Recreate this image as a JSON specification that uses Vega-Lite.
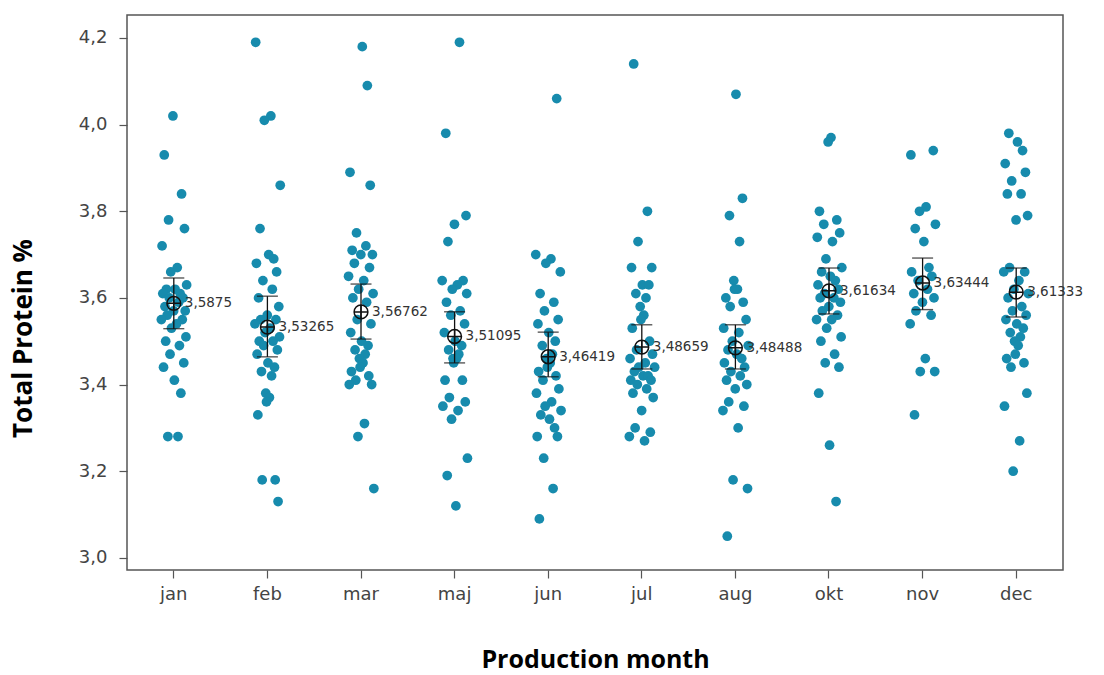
{
  "$schema": "https://vega.github.io/schema/vega-lite/v6.json",
  "width": 936,
  "height": 555,
  "autosize": {"type": "none"},
  "padding": {"left": 127, "top": 15, "right": 41, "bottom": 105},
  "background": "white",
  "config": {
    "view": {"stroke": "#555555", "strokeWidth": 1.5},
    "locale": {"number": {"decimal": ",", "thousands": ".", "grouping": [3], "currency": ["", " €"]}}
  },
  "datasets": {
    "pts": [
      {"m":"jan","v":4.02,"o":17},{"m":"jan","v":3.93,"o":5},{"m":"jan","v":3.84,"o":29},{"m":"jan","v":3.78,"o":11},{"m":"jan","v":3.76,"o":33},{"m":"jan","v":3.72,"o":2},{"m":"jan","v":3.67,"o":23},{"m":"jan","v":3.66,"o":14},{"m":"jan","v":3.63,"o":36},{"m":"jan","v":3.62,"o":8},{"m":"jan","v":3.62,"o":20},{"m":"jan","v":3.61,"o":27},{"m":"jan","v":3.61,"o":3},{"m":"jan","v":3.6,"o":31},{"m":"jan","v":3.6,"o":12},{"m":"jan","v":3.59,"o":25},{"m":"jan","v":3.58,"o":6},{"m":"jan","v":3.57,"o":34},{"m":"jan","v":3.57,"o":18},{"m":"jan","v":3.56,"o":9},{"m":"jan","v":3.55,"o":30},{"m":"jan","v":3.55,"o":1},{"m":"jan","v":3.54,"o":22},{"m":"jan","v":3.53,"o":15},{"m":"jan","v":3.51,"o":35},{"m":"jan","v":3.5,"o":7},{"m":"jan","v":3.49,"o":26},{"m":"jan","v":3.47,"o":13},{"m":"jan","v":3.45,"o":32},{"m":"jan","v":3.44,"o":4},{"m":"jan","v":3.41,"o":19},{"m":"jan","v":3.38,"o":28},{"m":"jan","v":3.28,"o":10},{"m":"jan","v":3.28,"o":24},
      {"m":"feb","v":4.19,"o":2},{"m":"feb","v":4.02,"o":23},{"m":"feb","v":4.01,"o":14},{"m":"feb","v":3.86,"o":36},{"m":"feb","v":3.76,"o":8},{"m":"feb","v":3.7,"o":20},{"m":"feb","v":3.69,"o":27},{"m":"feb","v":3.68,"o":3},{"m":"feb","v":3.66,"o":31},{"m":"feb","v":3.64,"o":12},{"m":"feb","v":3.62,"o":25},{"m":"feb","v":3.6,"o":6},{"m":"feb","v":3.58,"o":34},{"m":"feb","v":3.56,"o":18},{"m":"feb","v":3.55,"o":9},{"m":"feb","v":3.55,"o":30},{"m":"feb","v":3.54,"o":1},{"m":"feb","v":3.53,"o":22},{"m":"feb","v":3.52,"o":15},{"m":"feb","v":3.51,"o":35},{"m":"feb","v":3.5,"o":7},{"m":"feb","v":3.5,"o":26},{"m":"feb","v":3.49,"o":13},{"m":"feb","v":3.48,"o":32},{"m":"feb","v":3.47,"o":4},{"m":"feb","v":3.45,"o":19},{"m":"feb","v":3.44,"o":28},{"m":"feb","v":3.43,"o":10},{"m":"feb","v":3.42,"o":24},{"m":"feb","v":3.38,"o":16},{"m":"feb","v":3.37,"o":21},{"m":"feb","v":3.36,"o":17},{"m":"feb","v":3.33,"o":5},{"m":"feb","v":3.18,"o":29},{"m":"feb","v":3.18,"o":11},{"m":"feb","v":3.13,"o":33},
      {"m":"mar","v":4.18,"o":20},{"m":"mar","v":4.09,"o":27},{"m":"mar","v":3.89,"o":3},{"m":"mar","v":3.86,"o":31},{"m":"mar","v":3.75,"o":12},{"m":"mar","v":3.72,"o":25},{"m":"mar","v":3.71,"o":6},{"m":"mar","v":3.7,"o":34},{"m":"mar","v":3.7,"o":18},{"m":"mar","v":3.68,"o":9},{"m":"mar","v":3.67,"o":30},{"m":"mar","v":3.65,"o":1},{"m":"mar","v":3.64,"o":22},{"m":"mar","v":3.62,"o":15},{"m":"mar","v":3.61,"o":35},{"m":"mar","v":3.6,"o":7},{"m":"mar","v":3.59,"o":26},{"m":"mar","v":3.55,"o":13},{"m":"mar","v":3.54,"o":32},{"m":"mar","v":3.52,"o":4},{"m":"mar","v":3.5,"o":19},{"m":"mar","v":3.49,"o":28},{"m":"mar","v":3.48,"o":10},{"m":"mar","v":3.47,"o":24},{"m":"mar","v":3.46,"o":16},{"m":"mar","v":3.45,"o":21},{"m":"mar","v":3.44,"o":17},{"m":"mar","v":3.43,"o":5},{"m":"mar","v":3.42,"o":29},{"m":"mar","v":3.41,"o":11},{"m":"mar","v":3.4,"o":33},{"m":"mar","v":3.4,"o":2},{"m":"mar","v":3.31,"o":23},{"m":"mar","v":3.28,"o":14},{"m":"mar","v":3.16,"o":36},
      {"m":"maj","v":4.19,"o":25},{"m":"maj","v":3.98,"o":6},{"m":"maj","v":3.79,"o":34},{"m":"maj","v":3.77,"o":18},{"m":"maj","v":3.73,"o":9},{"m":"maj","v":3.64,"o":30},{"m":"maj","v":3.64,"o":1},{"m":"maj","v":3.63,"o":22},{"m":"maj","v":3.62,"o":15},{"m":"maj","v":3.61,"o":35},{"m":"maj","v":3.59,"o":7},{"m":"maj","v":3.57,"o":26},{"m":"maj","v":3.56,"o":13},{"m":"maj","v":3.54,"o":32},{"m":"maj","v":3.52,"o":4},{"m":"maj","v":3.5,"o":19},{"m":"maj","v":3.49,"o":28},{"m":"maj","v":3.48,"o":10},{"m":"maj","v":3.47,"o":24},{"m":"maj","v":3.46,"o":16},{"m":"maj","v":3.46,"o":21},{"m":"maj","v":3.45,"o":17},{"m":"maj","v":3.41,"o":5},{"m":"maj","v":3.41,"o":29},{"m":"maj","v":3.37,"o":11},{"m":"maj","v":3.36,"o":33},{"m":"maj","v":3.35,"o":2},{"m":"maj","v":3.34,"o":23},{"m":"maj","v":3.32,"o":14},{"m":"maj","v":3.23,"o":36},{"m":"maj","v":3.19,"o":8},{"m":"maj","v":3.12,"o":20},
      {"m":"jun","v":4.06,"o":30},{"m":"jun","v":3.7,"o":1},{"m":"jun","v":3.69,"o":22},{"m":"jun","v":3.68,"o":15},{"m":"jun","v":3.66,"o":35},{"m":"jun","v":3.61,"o":7},{"m":"jun","v":3.59,"o":26},{"m":"jun","v":3.57,"o":13},{"m":"jun","v":3.55,"o":32},{"m":"jun","v":3.54,"o":4},{"m":"jun","v":3.52,"o":19},{"m":"jun","v":3.5,"o":28},{"m":"jun","v":3.49,"o":10},{"m":"jun","v":3.47,"o":24},{"m":"jun","v":3.46,"o":16},{"m":"jun","v":3.45,"o":21},{"m":"jun","v":3.44,"o":17},{"m":"jun","v":3.43,"o":5},{"m":"jun","v":3.42,"o":29},{"m":"jun","v":3.41,"o":11},{"m":"jun","v":3.39,"o":33},{"m":"jun","v":3.38,"o":2},{"m":"jun","v":3.36,"o":23},{"m":"jun","v":3.35,"o":14},{"m":"jun","v":3.34,"o":36},{"m":"jun","v":3.33,"o":8},{"m":"jun","v":3.32,"o":20},{"m":"jun","v":3.3,"o":27},{"m":"jun","v":3.28,"o":3},{"m":"jun","v":3.28,"o":31},{"m":"jun","v":3.23,"o":12},{"m":"jun","v":3.16,"o":25},{"m":"jun","v":3.09,"o":6},
      {"m":"jul","v":4.14,"o":7},{"m":"jul","v":3.8,"o":26},{"m":"jul","v":3.73,"o":13},{"m":"jul","v":3.67,"o":32},{"m":"jul","v":3.67,"o":4},{"m":"jul","v":3.63,"o":19},{"m":"jul","v":3.63,"o":28},{"m":"jul","v":3.61,"o":10},{"m":"jul","v":3.6,"o":24},{"m":"jul","v":3.58,"o":16},{"m":"jul","v":3.56,"o":21},{"m":"jul","v":3.55,"o":17},{"m":"jul","v":3.53,"o":5},{"m":"jul","v":3.5,"o":29},{"m":"jul","v":3.48,"o":11},{"m":"jul","v":3.47,"o":33},{"m":"jul","v":3.46,"o":2},{"m":"jul","v":3.45,"o":23},{"m":"jul","v":3.44,"o":14},{"m":"jul","v":3.44,"o":36},{"m":"jul","v":3.43,"o":8},{"m":"jul","v":3.42,"o":20},{"m":"jul","v":3.42,"o":27},{"m":"jul","v":3.41,"o":3},{"m":"jul","v":3.41,"o":31},{"m":"jul","v":3.4,"o":12},{"m":"jul","v":3.39,"o":25},{"m":"jul","v":3.38,"o":6},{"m":"jul","v":3.37,"o":34},{"m":"jul","v":3.34,"o":18},{"m":"jul","v":3.3,"o":9},{"m":"jul","v":3.29,"o":30},{"m":"jul","v":3.28,"o":1},{"m":"jul","v":3.27,"o":22},
      {"m":"aug","v":4.07,"o":19},{"m":"aug","v":3.83,"o":28},{"m":"aug","v":3.79,"o":10},{"m":"aug","v":3.73,"o":24},{"m":"aug","v":3.64,"o":16},{"m":"aug","v":3.62,"o":21},{"m":"aug","v":3.62,"o":17},{"m":"aug","v":3.6,"o":5},{"m":"aug","v":3.59,"o":29},{"m":"aug","v":3.58,"o":11},{"m":"aug","v":3.55,"o":33},{"m":"aug","v":3.53,"o":2},{"m":"aug","v":3.52,"o":23},{"m":"aug","v":3.5,"o":14},{"m":"aug","v":3.49,"o":36},{"m":"aug","v":3.48,"o":8},{"m":"aug","v":3.47,"o":20},{"m":"aug","v":3.46,"o":27},{"m":"aug","v":3.45,"o":3},{"m":"aug","v":3.44,"o":31},{"m":"aug","v":3.43,"o":12},{"m":"aug","v":3.42,"o":25},{"m":"aug","v":3.41,"o":6},{"m":"aug","v":3.4,"o":34},{"m":"aug","v":3.39,"o":18},{"m":"aug","v":3.36,"o":9},{"m":"aug","v":3.35,"o":30},{"m":"aug","v":3.34,"o":1},{"m":"aug","v":3.3,"o":22},{"m":"aug","v":3.18,"o":15},{"m":"aug","v":3.16,"o":35},{"m":"aug","v":3.05,"o":7},
      {"m":"okt","v":3.97,"o":21},{"m":"okt","v":3.96,"o":17},{"m":"okt","v":3.8,"o":5},{"m":"okt","v":3.78,"o":29},{"m":"okt","v":3.77,"o":11},{"m":"okt","v":3.75,"o":33},{"m":"okt","v":3.74,"o":2},{"m":"okt","v":3.73,"o":23},{"m":"okt","v":3.69,"o":14},{"m":"okt","v":3.67,"o":36},{"m":"okt","v":3.66,"o":8},{"m":"okt","v":3.65,"o":20},{"m":"okt","v":3.64,"o":27},{"m":"okt","v":3.63,"o":3},{"m":"okt","v":3.62,"o":31},{"m":"okt","v":3.61,"o":12},{"m":"okt","v":3.6,"o":25},{"m":"okt","v":3.6,"o":6},{"m":"okt","v":3.59,"o":34},{"m":"okt","v":3.58,"o":18},{"m":"okt","v":3.57,"o":9},{"m":"okt","v":3.56,"o":30},{"m":"okt","v":3.55,"o":1},{"m":"okt","v":3.55,"o":22},{"m":"okt","v":3.53,"o":15},{"m":"okt","v":3.51,"o":35},{"m":"okt","v":3.5,"o":7},{"m":"okt","v":3.47,"o":26},{"m":"okt","v":3.45,"o":13},{"m":"okt","v":3.44,"o":32},{"m":"okt","v":3.38,"o":4},{"m":"okt","v":3.26,"o":19},{"m":"okt","v":3.13,"o":28},
      {"m":"nov","v":3.94,"o":33},{"m":"nov","v":3.93,"o":2},{"m":"nov","v":3.81,"o":23},{"m":"nov","v":3.8,"o":14},{"m":"nov","v":3.77,"o":36},{"m":"nov","v":3.76,"o":8},{"m":"nov","v":3.73,"o":20},{"m":"nov","v":3.67,"o":27},{"m":"nov","v":3.66,"o":3},{"m":"nov","v":3.65,"o":31},{"m":"nov","v":3.64,"o":12},{"m":"nov","v":3.62,"o":25},{"m":"nov","v":3.61,"o":6},{"m":"nov","v":3.6,"o":34},{"m":"nov","v":3.59,"o":18},{"m":"nov","v":3.57,"o":9},{"m":"nov","v":3.56,"o":30},{"m":"nov","v":3.54,"o":1},{"m":"nov","v":3.46,"o":22},{"m":"nov","v":3.43,"o":15},{"m":"nov","v":3.43,"o":35},{"m":"nov","v":3.33,"o":7},
      {"m":"dec","v":3.98,"o":8},{"m":"dec","v":3.96,"o":20},{"m":"dec","v":3.94,"o":27},{"m":"dec","v":3.91,"o":3},{"m":"dec","v":3.89,"o":31},{"m":"dec","v":3.87,"o":12},{"m":"dec","v":3.84,"o":25},{"m":"dec","v":3.84,"o":6},{"m":"dec","v":3.79,"o":34},{"m":"dec","v":3.78,"o":18},{"m":"dec","v":3.67,"o":9},{"m":"dec","v":3.66,"o":30},{"m":"dec","v":3.66,"o":1},{"m":"dec","v":3.64,"o":22},{"m":"dec","v":3.62,"o":15},{"m":"dec","v":3.61,"o":35},{"m":"dec","v":3.6,"o":7},{"m":"dec","v":3.58,"o":26},{"m":"dec","v":3.57,"o":13},{"m":"dec","v":3.56,"o":32},{"m":"dec","v":3.55,"o":4},{"m":"dec","v":3.54,"o":19},{"m":"dec","v":3.53,"o":28},{"m":"dec","v":3.52,"o":10},{"m":"dec","v":3.51,"o":24},{"m":"dec","v":3.5,"o":16},{"m":"dec","v":3.49,"o":21},{"m":"dec","v":3.47,"o":17},{"m":"dec","v":3.46,"o":5},{"m":"dec","v":3.45,"o":29},{"m":"dec","v":3.44,"o":11},{"m":"dec","v":3.38,"o":33},{"m":"dec","v":3.35,"o":2},{"m":"dec","v":3.27,"o":23},{"m":"dec","v":3.2,"o":14}
    ],
    "means": [
      {"m":"jan","mean":3.5875,"lo":3.529,"hi":3.646},
      {"m":"feb","mean":3.53265,"lo":3.464,"hi":3.604},
      {"m":"mar","mean":3.56762,"lo":3.505,"hi":3.632},
      {"m":"maj","mean":3.51095,"lo":3.45,"hi":3.568},
      {"m":"jun","mean":3.46419,"lo":3.418,"hi":3.521},
      {"m":"jul","mean":3.48659,"lo":3.436,"hi":3.538},
      {"m":"aug","mean":3.48488,"lo":3.436,"hi":3.538},
      {"m":"okt","mean":3.61634,"lo":3.563,"hi":3.669},
      {"m":"nov","mean":3.63444,"lo":3.573,"hi":3.692},
      {"m":"dec","mean":3.61333,"lo":3.556,"hi":3.669}
    ]
  },
  "encoding": {
    "x": {
      "field": "m", "type": "nominal",
      "sort": ["jan","feb","mar","maj","jun","jul","aug","okt","nov","dec"],
      "scale": {"type": "band", "paddingInner": 0, "paddingOuter": 0},
      "axis": {
        "title": "Production month", "titleFont": "Open Sans", "titleFontWeight": "bold", "titleFontSize": 25, "titleColor": "#000000", "titlePadding": 44,
        "labelFont": "DejaVu Sans", "labelFontSize": 18, "labelColor": "#444444", "labelAngle": 0, "labelPadding": 7,
        "domain": false, "ticks": true, "tickColor": "#555555", "tickSize": 8, "tickWidth": 1.2
      }
    }
  },
  "layer": [
    {
      "data": {"name": "pts"},
      "mark": {"type": "point", "shape": "circle", "filled": true, "size": 95, "color": "#178bad", "opacity": 1},
      "encoding": {
        "xOffset": {"field": "o", "type": "ordinal", "scale": {"type": "point", "range": [34, 60]}},
        "y": {
          "field": "v", "type": "quantitative",
          "scale": {"domain": [2.972, 4.253], "nice": false, "zero": false},
          "axis": {
            "title": "Total Protein %", "titleFont": "Open Sans", "titleFontWeight": "bold", "titleFontSize": 26, "titleColor": "#000000", "titlePadding": 42, "titleY": 323,
            "values": [3.0, 3.2, 3.4, 3.6, 3.8, 4.0, 4.2], "format": ".1f",
            "labelFont": "DejaVu Sans", "labelFontSize": 18, "labelColor": "#444444", "labelPadding": 12,
            "domain": false, "grid": false, "tickColor": "#555555", "tickSize": 8, "tickWidth": 1.2
          }
        }
      }
    },
    {
      "data": {"name": "means"},
      "mark": {"type": "rule", "color": "#111111", "strokeWidth": 1.3},
      "encoding": {"y": {"field": "lo", "type": "quantitative"}, "y2": {"field": "hi"}}
    },
    {
      "data": {"name": "means"},
      "mark": {"type": "tick", "color": "#111111", "size": 21, "thickness": 1.4},
      "encoding": {"y": {"field": "lo", "type": "quantitative"}}
    },
    {
      "data": {"name": "means"},
      "mark": {"type": "tick", "color": "#111111", "size": 21, "thickness": 1.4},
      "encoding": {"y": {"field": "hi", "type": "quantitative"}}
    },
    {
      "data": {"name": "means"},
      "mark": {"type": "point", "shape": "M-1,0A1,1,0,1,1,1,0A1,1,0,1,1,-1,0ZM-1,0L1,0M0,-1L0,1", "filled": false, "size": 190, "stroke": "#111111", "strokeWidth": 1.5, "opacity": 1},
      "encoding": {"y": {"field": "mean", "type": "quantitative"}}
    },
    {
      "data": {"name": "means"},
      "mark": {"type": "text", "align": "left", "baseline": "middle", "dx": 11, "font": "DejaVu Sans", "fontSize": 13.5, "color": "#333333"},
      "encoding": {
        "y": {"field": "mean", "type": "quantitative"},
        "text": {"field": "mean", "type": "quantitative", "format": ".6~r"}
      }
    }
  ]
}
